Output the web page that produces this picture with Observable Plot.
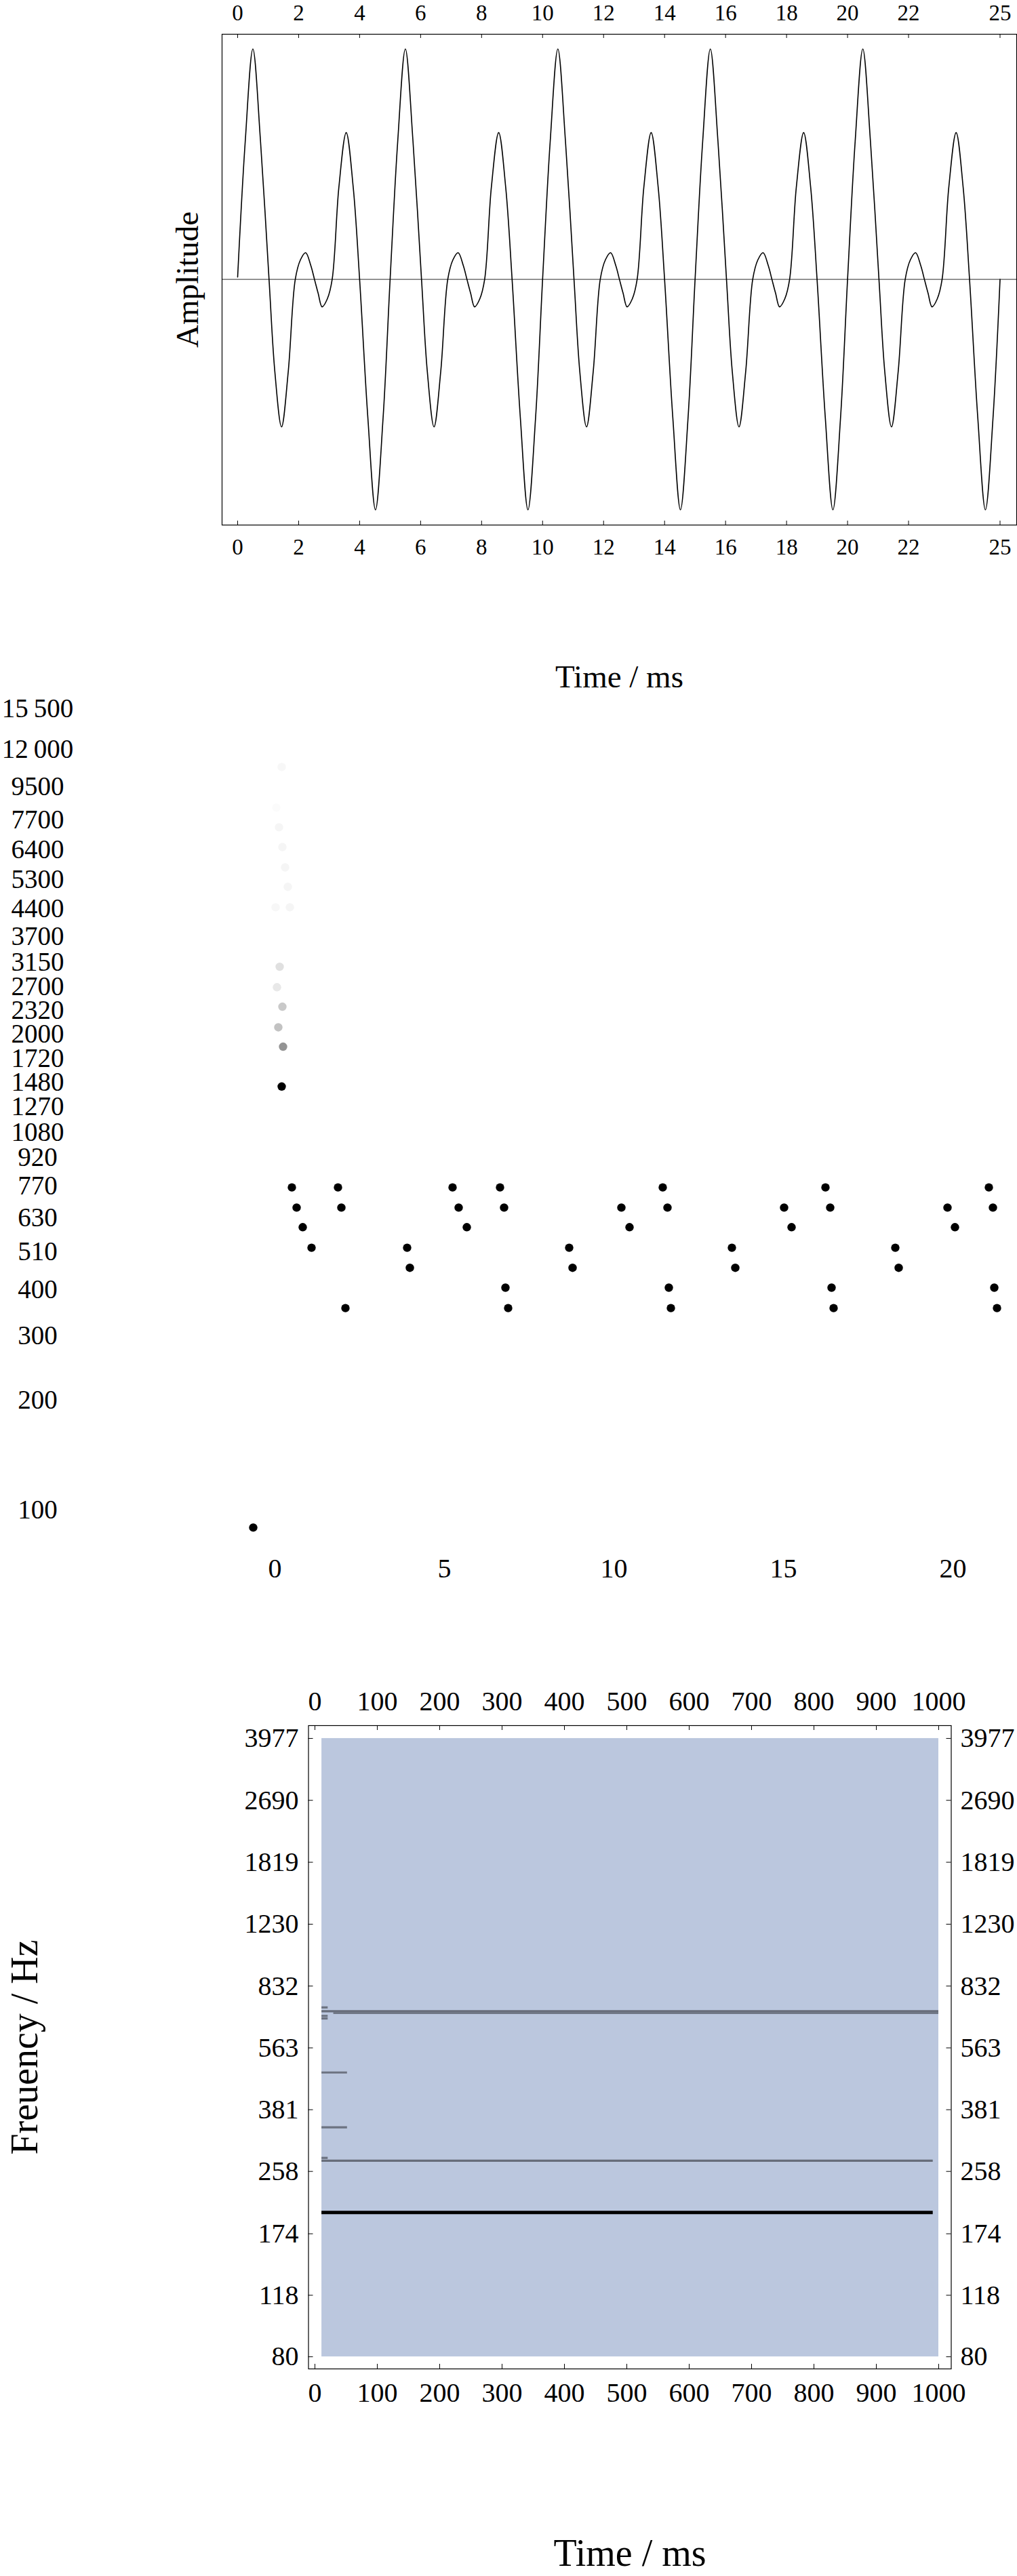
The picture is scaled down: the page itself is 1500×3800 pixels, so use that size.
<!DOCTYPE html>
<html><head><meta charset="utf-8">
<script src="https://cdn.jsdelivr.net/npm/d3@7"></script>
<script src="https://cdn.jsdelivr.net/npm/@observablehq/plot@0.6"></script>
<style>
body{margin:0;background:#fff;}
#wrap{width:1500px;height:3800px;position:relative;overflow:hidden;}
#wrap svg{display:block;position:absolute;left:0;overflow:visible;}
</style>
</head><body><div id="wrap"></div>
<script>
// ---------- Panel 1: waveform (time in ms, relative amplitude) ----------
const waveTimeMs = [
 0,0.25,0.5,0.75,1.03,1.22,1.44,1.66,1.89,2.06,2.23,2.4,2.52,2.64,2.77,2.94,3.1,3.32,3.56,3.79,4,4.27,4.52,4.77,
 5,5.25,5.5,5.75,6.03,6.22,6.44,6.66,6.89,7.06,7.23,7.4,7.52,7.64,7.77,7.94,8.1,8.32,8.56,8.79,9,9.27,9.52,9.77,
 10,10.25,10.5,10.75,11.03,11.22,11.44,11.66,11.89,12.06,12.23,12.4,12.52,12.64,12.77,12.94,13.1,13.32,13.56,13.79,14,14.27,14.52,14.77,
 15,15.25,15.5,15.75,16.03,16.22,16.44,16.66,16.89,17.06,17.23,17.4,17.52,17.64,17.77,17.94,18.1,18.32,18.56,18.79,19,19.27,19.52,19.77,
 20,20.25,20.5,20.75,21.03,21.22,21.44,21.66,21.89,22.06,22.23,22.4,22.52,22.64,22.77,22.94,23.1,23.32,23.56,23.79,24,24.27,24.52,24.77,
 25];
const waveAmplitude = [
 0.01,0.6,1,0.6,0,-0.4,-0.64,-0.4,0,0.085,0.116,0.06,0,-0.06,-0.119,-0.085,0,0.4,0.637,0.4,0,-0.6,-1,-0.6,
 0,0.6,1,0.6,0,-0.4,-0.64,-0.4,0,0.085,0.116,0.06,0,-0.06,-0.119,-0.085,0,0.4,0.637,0.4,0,-0.6,-1,-0.6,
 0,0.6,1,0.6,0,-0.4,-0.64,-0.4,0,0.085,0.116,0.06,0,-0.06,-0.119,-0.085,0,0.4,0.637,0.4,0,-0.6,-1,-0.6,
 0,0.6,1,0.6,0,-0.4,-0.64,-0.4,0,0.085,0.116,0.06,0,-0.06,-0.119,-0.085,0,0.4,0.637,0.4,0,-0.6,-1,-0.6,
 0,0.6,1,0.6,0,-0.4,-0.64,-0.4,0,0.085,0.116,0.06,0,-0.06,-0.119,-0.085,0,0.4,0.637,0.4,0,-0.6,-1,-0.6,
 0];
const waveTicks = [0,2,4,6,8,10,12,14,16,18,20,22,25];

// ---------- Panel 2: peaks on critical-band frequency axis ----------
const bandEdgeHz = [15500,12000,9500,7700,6400,5300,4400,3700,3150,2700,2320,2000,1720,1480,1270,1080,920,770,630,510,400,300,200,100];
const bandEdgeLabels = ["15\u2009500","12\u2009000","9500","7700","6400","5300","4400","3700","3150","2700","2320","2000","1720","1480","1270","1080","920","770","630","510","400","300","200","100"];
const peakTimeMs = [0.2,0.04,0.12,0.22,0.3,0.38,0.02,0.44,0.14,0.06,0.22,0.1,0.24,0.2,
 0.5,1.86,5.24,6.64,11.44,16.24,21.06,
 0.64,1.96,5.42,6.76,10.22,11.58,15.02,16.38,19.84,21.18,
 0.82,5.66,10.46,15.24,20.06,
 1.08,3.9,8.68,13.48,18.3,
 3.98,8.78,13.58,18.4,
 6.8,11.62,16.42,21.22,
 2.08,6.88,11.68,16.48,21.3,
 -0.64];
const peakFreqHz = [10760,8330,7360,6500,5720,5060,4450,4450,3060,2690,2380,2090,1850,1440,
 763,763,763,763,763,763,763,
 672,672,672,672,672,672,672,672,672,672,
 594,594,594,594,594,
 522,522,522,522,522,
 460,460,460,460,
 406,406,406,406,
 357,357,357,357,357,
 89.7];
const peakLevel = [0.03,0.015,0.04,0.04,0.04,0.04,0.03,0.04,0.12,0.09,0.21,0.24,0.42,1,
 1,1,1,1,1,1,1,
 1,1,1,1,1,1,1,1,1,1,
 1,1,1,1,1,
 1,1,1,1,1,
 1,1,1,1,
 1,1,1,1,
 1,1,1,1,1,
 1];
const peakTimeTicks = [0,5,10,15,20];

// ---------- Panel 3: spectrogram ----------
const specTimeTicks = [0,100,200,300,400,500,600,700,800,900,1000];
const specFreqTicks = [80,118,174,258,381,563,832,1230,1819,2690,3977];
const specStartMs = 11, specEndMs = 1000, specLowHz = 80, specHighHz = 3977;
const trackFreqHz  = [710, 702, 727, 689, 678, 482, 341, 276, 281, 199];
const trackStartMs = [11, 30, 11, 11, 11, 11, 11, 11, 11, 11];
const trackEndMs   = [1000, 1000, 21, 21, 21, 52, 52, 991, 21, 991];
const trackLevel   = [0.45, 0.4, 0.42, 0.42, 0.42, 0.42, 0.42, 0.45, 0.42, 1];

const FONT = "'Liberation Serif','Times New Roman',Times,serif";
const wrap = document.getElementById("wrap");
function place(svg, top) { svg.style.top = top + "px"; wrap.appendChild(svg); }
const baseStyle = {fontFamily: FONT, background: "transparent", color: "#000", overflow: "visible"};

// ---- Plot 1 ----
const wave = waveTimeMs.map((t, i) => ({t, a: waveAmplitude[i]}));
const H1 = 1020, mT1 = 50, mB1 = 246, ph1 = H1 - mT1 - mB1;
place(Plot.plot({
  width: 1500, height: H1,
  marginLeft: 327, marginRight: 1, marginTop: mT1, marginBottom: mB1,
  style: baseStyle,
  x: {domain: [-0.511, 25.545], label: null},
  y: {domain: [-1.066, 1.064], axis: null, label: null},
  marks: [
    Plot.ruleY([0], {stroke: "#555", strokeWidth: 1.3}),
    Plot.line(wave, {x: "t", y: "a", curve: "catmull-rom", stroke: "#000", strokeWidth: 1.6}),
    Plot.tickX(waveTicks, {x: d => d, insetBottom: ph1 - 6, stroke: "#000"}),
    Plot.tickX(waveTicks, {x: d => d, insetTop: ph1 - 6, stroke: "#000"}),
    Plot.frame({stroke: "#000", strokeWidth: 1.2}),
    Plot.axisX({anchor: "top", ticks: waveTicks, tickSize: 0, tickPadding: 31, lineAnchor: "middle", fontSize: 33, label: null, tickFormat: d => String(d)}),
    Plot.axisX({anchor: "bottom", ticks: waveTicks, tickSize: 0, tickPadding: 33, lineAnchor: "middle", fontSize: 33, label: null, tickFormat: d => String(d)}),
    Plot.text(["Amplitude"], {text: d => d, frameAnchor: "left", rotate: -90, dx: -51, textAnchor: "middle", lineAnchor: "middle", fontSize: 47}),
    Plot.text(["Time / ms"], {text: d => d, frameAnchor: "bottom", dy: 224, textAnchor: "middle", lineAnchor: "middle", fontSize: 47})
  ]
}), 0);

// ---- Plot 2 ----
const peaks = peakTimeMs.map((t, i) => ({t, hz: peakFreqHz[i], level: peakLevel[i]}));
place(Plot.plot({
  width: 1500, height: 1340,
  marginLeft: 340, marginRight: 20, marginTop: 10, marginBottom: 80,
  style: baseStyle,
  x: {domain: [-1.3, 21.5], label: null},
  y: {type: "log", domain: [79.9, 16550], label: null, axis: null},
  color: {type: "linear", domain: [0, 1], range: ["#ffffff", "#000000"]},
  marks: [
    Plot.dot(peaks, {x: "t", y: "hz", fill: "level", r: 6.2}),
    Plot.text(bandEdgeHz, {y: d => d, text: (d, i) => bandEdgeLabels[i], frameAnchor: "left", dx: -285, textAnchor: "middle", lineAnchor: "middle", fontSize: 39}),
    Plot.axisX({anchor: "bottom", ticks: peakTimeTicks, tickFormat: d => String(d), tickSize: 0, tickPadding: 34, lineAnchor: "middle", fontSize: 40, label: null})
  ]
}), 1020);

// ---- Plot 3 ----
const H3 = 1440, mT3 = 185, mB3 = 306, mL3 = 454.5, mR3 = 97.5;
const ph3 = H3 - mT3 - mB3, pw3 = 1500 - mL3 - mR3;
const spec = [{t0: specStartMs, t1: specEndMs, f0: specLowHz, f1: specHighHz, level: 0}];
const tracks = trackFreqHz.map((hz, i) => ({hz, t0: trackStartMs[i], t1: trackEndMs[i], level: trackLevel[i]}));
place(Plot.plot({
  width: 1500, height: H3,
  marginLeft: mL3, marginRight: mR3, marginTop: mT3, marginBottom: mB3,
  style: baseStyle,
  x: {domain: [-10.3, 1020.1], label: null},
  y: {type: "log", domain: [74.1, 4313], label: null, axis: null},
  color: {type: "linear", domain: [0, 1], range: ["#bbc7de", "#000000"]},
  marks: [
    Plot.rect(spec, {x1: "t0", x2: "t1", y1: "f0", y2: "f1", fill: "level"}),
    Plot.ruleY(tracks.filter(d => d.level < 1), {y: "hz", x1: "t0", x2: "t1", stroke: "level", strokeWidth: 3.2}),
    Plot.ruleY(tracks.filter(d => d.level >= 1), {y: "hz", x1: "t0", x2: "t1", stroke: "level", strokeWidth: 5}),
    Plot.tickX(specTimeTicks, {x: d => d, insetBottom: ph3 - 7, stroke: "#000"}),
    Plot.tickX(specTimeTicks, {x: d => d, insetTop: ph3 - 7, stroke: "#000"}),
    Plot.tickY(specFreqTicks, {y: d => d, insetRight: pw3 - 7, stroke: "#000"}),
    Plot.tickY(specFreqTicks, {y: d => d, insetLeft: pw3 - 7, stroke: "#000"}),
    Plot.frame({stroke: "#000", strokeWidth: 1.2}),
    Plot.axisX({anchor: "top", ticks: specTimeTicks, tickFormat: d => String(d), tickSize: 0, tickPadding: 35, lineAnchor: "middle", fontSize: 40, label: null}),
    Plot.axisX({anchor: "bottom", ticks: specTimeTicks, tickFormat: d => String(d), tickSize: 0, tickPadding: 36, lineAnchor: "middle", fontSize: 40, label: null}),
    Plot.text(specFreqTicks, {y: d => d, text: d => String(d), frameAnchor: "left", dx: -14.5, textAnchor: "end", lineAnchor: "middle", fontSize: 40}),
    Plot.text(specFreqTicks, {y: d => d, text: d => String(d), frameAnchor: "right", dx: 13.5, textAnchor: "start", lineAnchor: "middle", fontSize: 40}),
    Plot.text(["Freuency / Hz"], {text: d => d, frameAnchor: "left", rotate: -90, dx: -417.5, textAnchor: "middle", lineAnchor: "middle", fontSize: 56}),
    Plot.text(["Time / ms"], {text: d => d, frameAnchor: "bottom", dy: 273, textAnchor: "middle", lineAnchor: "middle", fontSize: 56})
  ]
}), 2360);
</script>
</body></html>
